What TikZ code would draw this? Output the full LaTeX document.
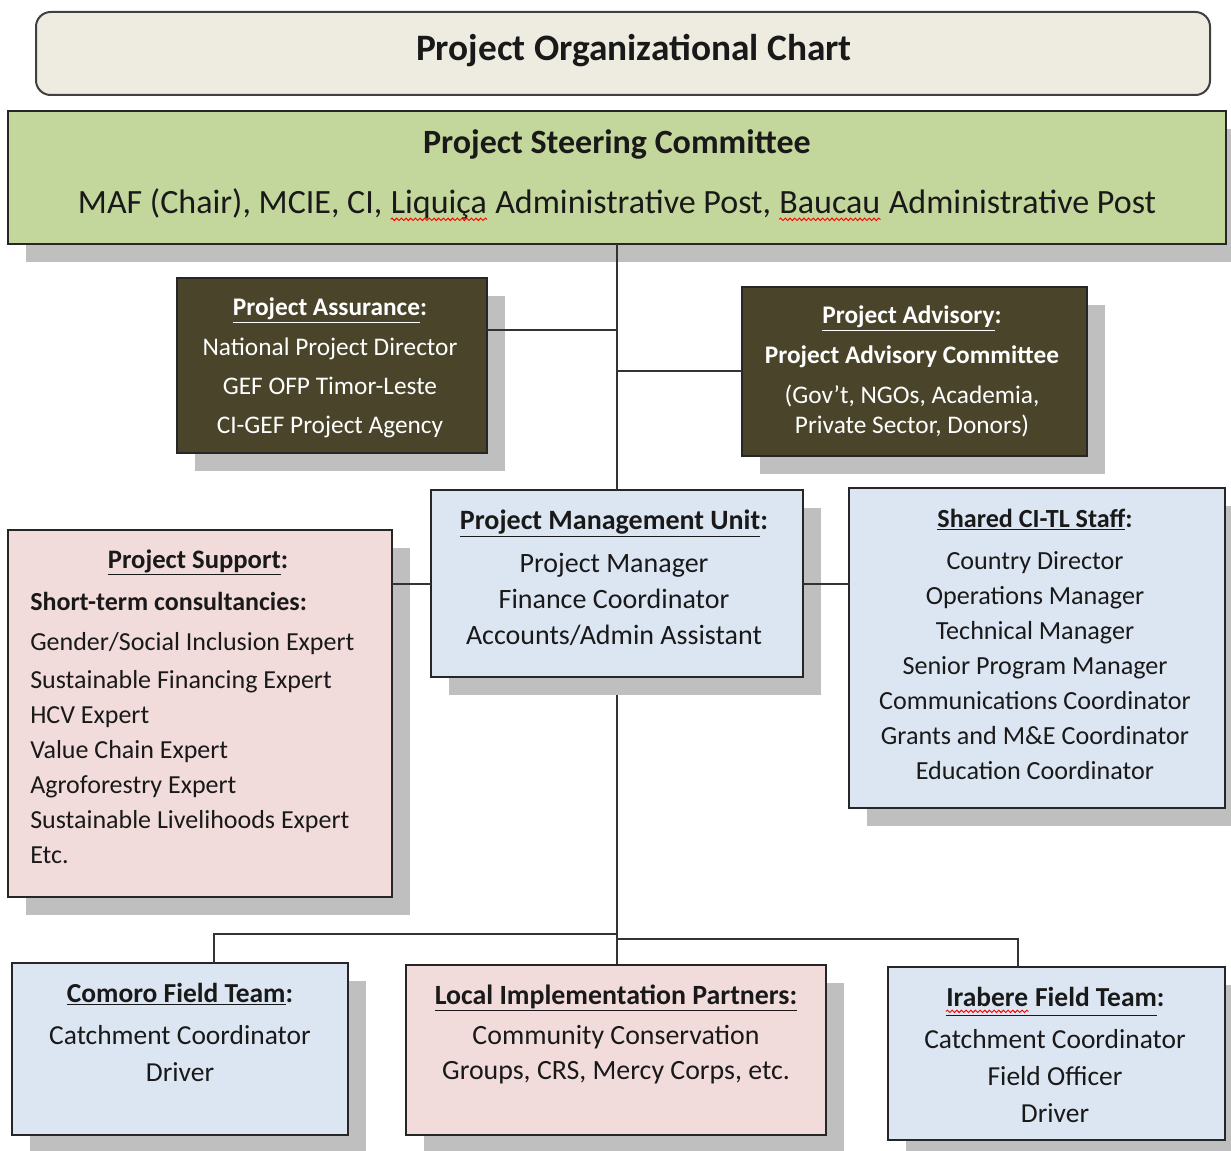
\documentclass[tikz,border=0pt]{standalone}
\usepackage{fontspec}
\setmainfont{Carlito}
\usetikzlibrary{fit,shadows,backgrounds,decorations.pathmorphing}

\definecolor{chartbeige}{HTML}{EEECE1}
\definecolor{steergreen}{HTML}{C3D69B}
\definecolor{olivedark}{HTML}{4A452A}
\definecolor{teamblue}{HTML}{DCE6F2}
\definecolor{partnerpink}{HTML}{F2DCDB}
\definecolor{shadowgray}{HTML}{BFBFBF}

% red wavy mark under a word
\newcommand\spellmark[1]{\tikz[baseline=(sw.base)]{\node[inner sep=0pt] (sw) {#1};
  \draw[red, line width=0.7pt, decorate, decoration={snake, amplitude=0.9pt, segment length=3.5pt}]
    ([yshift=-4pt]sw.base west) -- ([yshift=-4pt]sw.base east);}}

\begin{document}
\begin{tikzpicture}[x=0.75pt,y=-0.75pt,
    unit/.style={draw=black!85, line width=1.5pt, inner sep=0pt, outer sep=0pt,
      general shadow={fill=shadowgray, shadow xshift=13.5pt, shadow yshift=-13.5pt}},
    link/.style={draw=black!80, line width=1.5pt},
    txt/.style={anchor=base, align=center, text=black!90, inner sep=0pt}]
  \useasboundingbox (0,0) rectangle (1231,1151);
  \begin{scope}[on background layer]
    \fill[white] (0,0) rectangle (1231,1151);
  \end{scope}
  % --- Title ---
  \node[fit={(36,12) (1210,95)}, inner sep=0pt, draw=black!75, line width=1.5pt,
    rounded corners=11pt, fill=chartbeige] (title) {};
  \node[txt, font=\fontsize{28}{34}\selectfont\bfseries] (title-t) at (634,61) {Project Organizational Chart};
  % --- Steering committee (text nodes sit on their last baseline) ---
  \node[unit, fill=steergreen, fit={(8,111) (1226,244)}] (steer) {};
  \node[txt, font=\fontsize{25.5}{45}\selectfont] (steer-t) at (617,214)
    {\textbf{Project Steering Committee}\\
     MAF (Chair), MCIE, CI, \spellmark{Liquiça} Administrative Post, \spellmark{Baucau} Administrative Post};
  % --- Assurance and advisory (dark boxes) ---
  \node[unit, fill=olivedark, fit={(177,278) (487,453)}] (assure) {};
  \node[txt, text=white, font=\fontsize{19}{29.5}\selectfont] (assure-t) at (330,434)
    {\textbf{\underline{Project Assurance}:}\\ National Project Director\\ GEF OFP Timor-Leste\\ CI-GEF Project Agency};
  \node[unit, fill=olivedark, fit={(742,287) (1087,456)}] (advis) {};
  \node[txt, text=white, font=\fontsize{19}{22.5}\selectfont] (advis-t) at (912,434)
    {\textbf{\underline{Project Advisory}:}\\[7.5pt] \textbf{Project Advisory Committee}\\[7.5pt]
     (Gov't, NGOs, Academia,\\ Private Sector, Donors)};
  % --- Management unit, support and shared staff ---
  \node[unit, fill=teamblue, fit={(431,490) (803,677)}] (pmu) {};
  \node[txt, font=\fontsize{21}{27}\selectfont] (pmu-t) at (614,644)
    {\textbf{\underline{Project Management Unit}:}\\[5pt] Project Manager\\ Finance Coordinator\\ Accounts/Admin Assistant};
  \node[unit, fill=teamblue, fit={(849,488) (1225,808)}] (shared) {};
  \node[txt, font=\fontsize{19.6}{26.25}\selectfont] (shared-t) at (1035,779)
    {\textbf{\underline{Shared CI-TL Staff}:}\\[5pt] Country Director\\ Operations Manager\\ Technical Manager\\
     Senior Program Manager\\ Communications Coordinator\\ Grants and M\&E Coordinator\\ Education Coordinator};
  \node[unit, fill=partnerpink, fit={(8,530) (392,897)}] (sup) {};
  \node[txt, font=\fontsize{20}{26.25}\selectfont\bfseries] (sup-t) at (198,568) {\underline{Project Support}:};
  \node[txt, anchor=base west, align=left, font=\fontsize{19.5}{26.25}\selectfont] (sup-list) at (30,863)
    {\textbf{Short-term consultancies:}\\[4pt] Gender/Social Inclusion Expert\\[2pt] Sustainable Financing Expert\\
     HCV Expert\\ Value Chain Expert\\ Agroforestry Expert\\ Sustainable Livelihoods Expert\\ Etc.};
  % --- Field teams and partners ---
  \node[unit, fill=teamblue, fit={(12,963) (348,1135)}] (comoro) {};
  \node[txt, font=\fontsize{20.6}{27.75}\selectfont] (comoro-t) at (180,1081)
    {\textbf{\underline{Comoro Field Team}:}\\[3.75pt] Catchment Coordinator\\ Driver};
  \node[unit, fill=partnerpink, fit={(406,965) (826,1135)}] (local) {};
  \node[txt, font=\fontsize{20.9}{26.25}\selectfont] (local-t) at (616,1079)
    {\textbf{\underline{Local Implementation Partners:}}\\[3.75pt] Community Conservation\\ Groups, CRS, Mercy Corps, etc.};
  \node[unit, fill=teamblue, fit={(888,967) (1225,1140)}] (irabere) {};
  \node[txt, font=\fontsize{20.6}{27.5}\selectfont] (irabere-t) at (1055,1122)
    {\textbf{\underline{\spellmark{Irabere} Field Team}:}\\[4.5pt] Catchment Coordinator\\ Field Officer\\ Driver};
  % --- Connectors ---
  \coordinate (asJoin) at (617,330);
  \coordinate (coJoin) at (214,934);
  \coordinate (irJoin) at (1018,939);
  \draw[link] (steer.south) -- (pmu.north);
  \draw[link] (asJoin -| assure.east) -- (asJoin);
  \draw[link] (advis.west) -- (advis.west -| pmu.north);
  \draw[link] (pmu.west) -- (pmu.west -| sup.east);
  \draw[link] (pmu.east) -- (pmu.east -| shared.west);
  % trunk runs under the unit's shadow
  \begin{scope}[on background layer]
    \draw[link] (pmu.south) -- (pmu.south |- local.north);
  \end{scope}
  \draw[link] (coJoin -| pmu.south) -- (coJoin) -- (coJoin |- comoro.north);
  \draw[link] (irJoin -| pmu.south) -- (irJoin) -- (irJoin |- irabere.north);
\end{tikzpicture}
\end{document}
